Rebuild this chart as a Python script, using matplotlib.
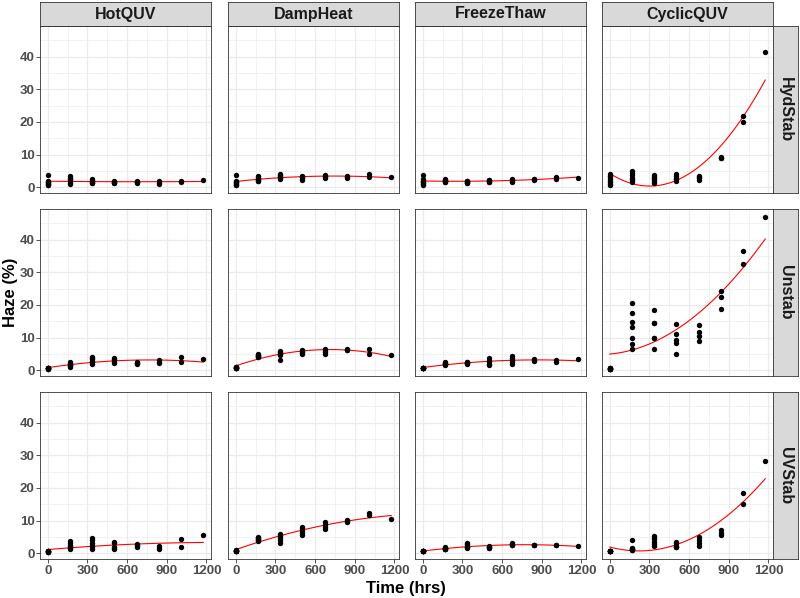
import matplotlib.pyplot as plt
import numpy as np

plt.rcParams['font.family'] = ['Liberation Sans', 'DejaVu Sans']

DPI = 100
TIMES = [0, 168, 336, 504, 672, 840, 1008, 1176]
TESTS = ["HotQUV", "DampHeat", "FreezeThaw", "CyclicQUV"]
FORMS = ["HydStab", "Unstab", "UVStab"]
X_TICKS = [0, 300, 600, 900, 1200]
Y_TICKS = [0, 10, 20, 30, 40]

# haze (%) readings, one list of replicates per entry of TIMES
# (one sample pulled at each time: 8, 7, 6 ... 1 replicates; many overlap)
HYD_HOTQUV = [[3.8, 2.0, 1.7, 1.5, 1.2, 1.0, 0.8, 0.7], [3.3, 2.8, 2.5, 2.3, 1.8, 1.3, 1.0],
              [2.4, 2.2, 2.0, 1.6, 1.4, 1.3], [1.8, 1.6, 1.5, 1.3, 1.2], [1.9, 1.6, 1.5, 1.2],
              [1.8, 1.4, 1.1], [1.9, 1.6], [2.2]]
HYD_DAMPHEAT = [[3.8, 2.0, 1.7, 1.5, 1.2, 1.0, 0.8, 0.6], [3.4, 3.1, 2.8, 2.5, 2.2, 2.0, 1.9],
                [4.0, 3.7, 3.4, 3.0, 2.8, 2.4], [3.5, 3.2, 3.0, 2.6, 2.3], [3.6, 3.3, 3.2, 2.9],
                [3.5, 3.1, 2.8], [3.9, 3.1], [3.0]]
HYD_FREEZE = [[3.8, 2.5, 2.0, 1.8, 1.5, 1.3, 1.0, 0.8], [2.5, 2.3, 2.1, 2.0, 1.8, 1.7, 1.6],
              [2.0, 1.8, 1.6, 1.5, 1.3, 1.2], [2.3, 2.1, 1.9, 1.7, 1.6], [2.4, 2.1, 2.0, 1.7],
              [2.6, 2.4, 2.2], [3.0, 2.6], [2.8]]
HYD_CYCLIC = [[4.0, 3.5, 3.0, 2.6, 2.0, 1.5, 1.0, 0.5], [5.0, 4.3, 3.6, 2.9, 2.5, 2.2, 1.5],
              [3.8, 3.2, 2.8, 2.6, 2.0, 1.4], [4.0, 3.3, 2.8, 2.5, 2.0], [3.5, 3.0, 2.8, 2.3],
              [9.3, 9.0, 8.8], [21.9, 20.1], [41.3]]

UN_HOTQUV = [[0.7, 0.6, 0.6, 0.5, 0.5, 0.5, 0.4, 0.4], [2.5, 2.2, 2.0, 1.7, 1.5, 1.2, 1.0],
             [4.0, 3.6, 3.3, 2.8, 2.5, 1.8], [3.8, 3.4, 3.2, 2.6, 2.3], [2.4, 2.3, 2.1, 2.0],
             [3.0, 2.5, 2.2], [4.0, 2.5], [3.4]]
UN_DAMPHEAT = [[1.1, 1.0, 0.9, 0.8, 0.7, 0.6, 0.6, 0.5], [4.8, 4.6, 4.5, 4.4, 4.2, 4.1, 4.0],
               [5.8, 5.5, 5.2, 4.9, 4.6, 3.2], [6.2, 5.8, 5.5, 5.3, 4.9], [6.4, 5.8, 5.6, 5.0],
               [6.5, 6.3, 6.1], [6.5, 5.0], [4.5]]
UN_FREEZE = [[0.7, 0.7, 0.6, 0.6, 0.6, 0.5, 0.5, 0.5], [2.4, 2.2, 2.0, 1.9, 1.8, 1.8, 1.7],
             [2.6, 2.5, 2.3, 2.2, 2.1, 2.0], [3.6, 3.1, 2.6, 2.0, 1.5],
             [4.2, 3.6, 3.0, 2.4, 1.8], [3.3, 3.0, 2.7], [3.1, 2.6], [3.5]]
UN_CYCLIC = [[0.6, 0.5, 0.5, 0.4, 0.4, 0.4, 0.3, 0.3], [20.5, 17.4, 14.8, 13.2, 9.9, 8.0, 6.6],
             [18.5, 14.5, 14.5, 9.9, 9.9, 6.6], [14.1, 11.2, 9.2, 8.2, 4.9],
             [13.9, 11.7, 10.5, 8.8], [24.2, 22.3, 18.7], [36.6, 32.4], [46.9]]

UV_HOTQUV = [[0.6, 0.6, 0.5, 0.5, 0.5, 0.4, 0.4, 0.4], [3.7, 3.1, 2.5, 2.2, 1.8, 1.5, 1.3],
             [4.6, 3.9, 3.2, 2.5, 1.8, 1.3], [3.4, 3.0, 1.8, 1.6, 1.4], [2.7, 2.4, 2.2, 2.0],
             [2.1, 1.6, 1.4], [4.4, 2.0], [5.6]]
UV_DAMPHEAT = [[1.0, 0.9, 0.8, 0.7, 0.6, 0.6, 0.5, 0.5], [4.9, 4.6, 4.5, 4.3, 4.1, 4.0, 3.8],
               [5.9, 5.6, 5.3, 4.6, 4.0, 3.2], [8.1, 7.6, 6.9, 6.1, 5.6], [9.4, 8.7, 8.1, 7.3],
               [10.2, 9.8, 9.4], [12.3, 11.6], [10.4]]
UV_FREEZE = [[0.7, 0.6, 0.6, 0.6, 0.6, 0.5, 0.5, 0.5], [1.8, 1.7, 1.5, 1.4, 1.3, 1.2, 1.2],
             [3.1, 2.8, 2.4, 2.0, 1.8, 1.6], [2.2, 2.0, 1.9, 1.7, 1.6], [3.1, 2.8, 2.6, 2.4],
             [2.5, 2.5, 2.4], [2.5, 2.5], [2.1]]
UV_CYCLIC = [[0.7, 0.6, 0.6, 0.6, 0.6, 0.5, 0.5, 0.5], [4.0, 1.6, 1.4, 1.3, 1.2, 1.1, 1.0],
             [5.1, 4.5, 4.2, 3.5, 2.9, 2.2], [3.5, 3.0, 2.2, 2.0, 1.8], [4.8, 3.9, 3.1, 2.2],
             [7.0, 6.3, 5.7], [18.4, 15.2], [28.1]]

GRID = [[HYD_HOTQUV, HYD_DAMPHEAT, HYD_FREEZE, HYD_CYCLIC],
        [UN_HOTQUV, UN_DAMPHEAT, UN_FREEZE, UN_CYCLIC],
        [UV_HOTQUV, UV_DAMPHEAT, UV_FREEZE, UV_CYCLIC]]


def flatten(reps):
    xs, ys = [], []
    for t, vals in zip(TIMES, reps):
        xs += [t] * len(vals)
        ys += vals
    return np.array(xs, float), np.array(ys, float)


def style_strip(sa):
    sa.set_facecolor('#D9D9D9')
    sa.set_xticks([])
    sa.set_yticks([])
    for s in sa.spines.values():
        s.set_color('#333333')
        s.set_linewidth(0.6)


W, H = 800, 598
fig = plt.figure(figsize=(W / DPI, H / DPI), dpi=DPI)

lefts = [40, 228, 415, 602]
tops = [26, 209, 392]
pw, ph = 171, 167
strip = 25

for r, form in enumerate(FORMS):
    for c, test in enumerate(TESTS):
        ax = fig.add_axes([lefts[c] / W, 1 - (tops[r] + ph) / H, pw / W, ph / H])
        x, y = flatten(GRID[r][c])
        # quadratic least-squares smoother
        coef = np.polyfit(x, y, 2)
        xx = np.linspace(0, 1176, 120)
        ax.plot(xx, np.polyval(coef, xx), color='red', lw=0.8, zorder=2)
        ax.scatter(x, y, s=15, color='black', zorder=3, linewidths=0)
        ax.set_xlim(-58.8, 1234.8)
        ax.set_ylim(-1.8, 49.4)
        ax.set_xticks(X_TICKS)
        ax.set_yticks(Y_TICKS)
        ax.set_xticks([150, 450, 750, 1050], minor=True)
        ax.set_yticks([5, 15, 25, 35, 45], minor=True)
        ax.grid(which='major', color='#EBEBEB', lw=0.9, zorder=0)
        ax.grid(which='minor', color='#EBEBEB', lw=0.45, zorder=0)
        ax.set_axisbelow(True)
        ax.tick_params(which='minor', length=0)
        ax.tick_params(which='major', length=3, width=0.6, color='#333333',
                       labelsize=9.5, labelcolor='#4D4D4D', pad=1)
        for lab in ax.get_xticklabels() + ax.get_yticklabels():
            lab.set_fontweight('bold')
        if c != 0:
            ax.tick_params(axis='y', left=False, labelleft=False)
        if r != len(FORMS) - 1:
            ax.tick_params(axis='x', bottom=False, labelbottom=False)
        for s in ax.spines.values():
            s.set_color('#333333')
            s.set_linewidth(0.6)

        if r == 0:
            sa = fig.add_axes([lefts[c] / W, 1 - tops[0] / H, pw / W, (strip - 1) / H])
            style_strip(sa)
            sa.text(0.5, 0.5, test, ha='center', va='center', fontsize=11.5,
                    fontweight='bold', color='#1A1A1A', transform=sa.transAxes)
        if c == len(TESTS) - 1:
            sa = fig.add_axes([(lefts[c] + pw) / W, 1 - (tops[r] + ph) / H, strip / W, ph / H])
            style_strip(sa)
            sa.text(0.5, 0.5, form, ha='center', va='center', fontsize=11.5,
                    fontweight='bold', color='#1A1A1A', rotation=-90,
                    transform=sa.transAxes)

fig.text(10 / W, 1 - 292 / H, "Haze (%)", rotation=90, ha='center', va='center',
         fontsize=12, fontweight='bold')
fig.text(406 / W, 1 - 588 / H, "Time (hrs)", ha='center', va='center',
         fontsize=12, fontweight='bold')

plt.savefig("out.png", dpi=DPI)
plt.close()
